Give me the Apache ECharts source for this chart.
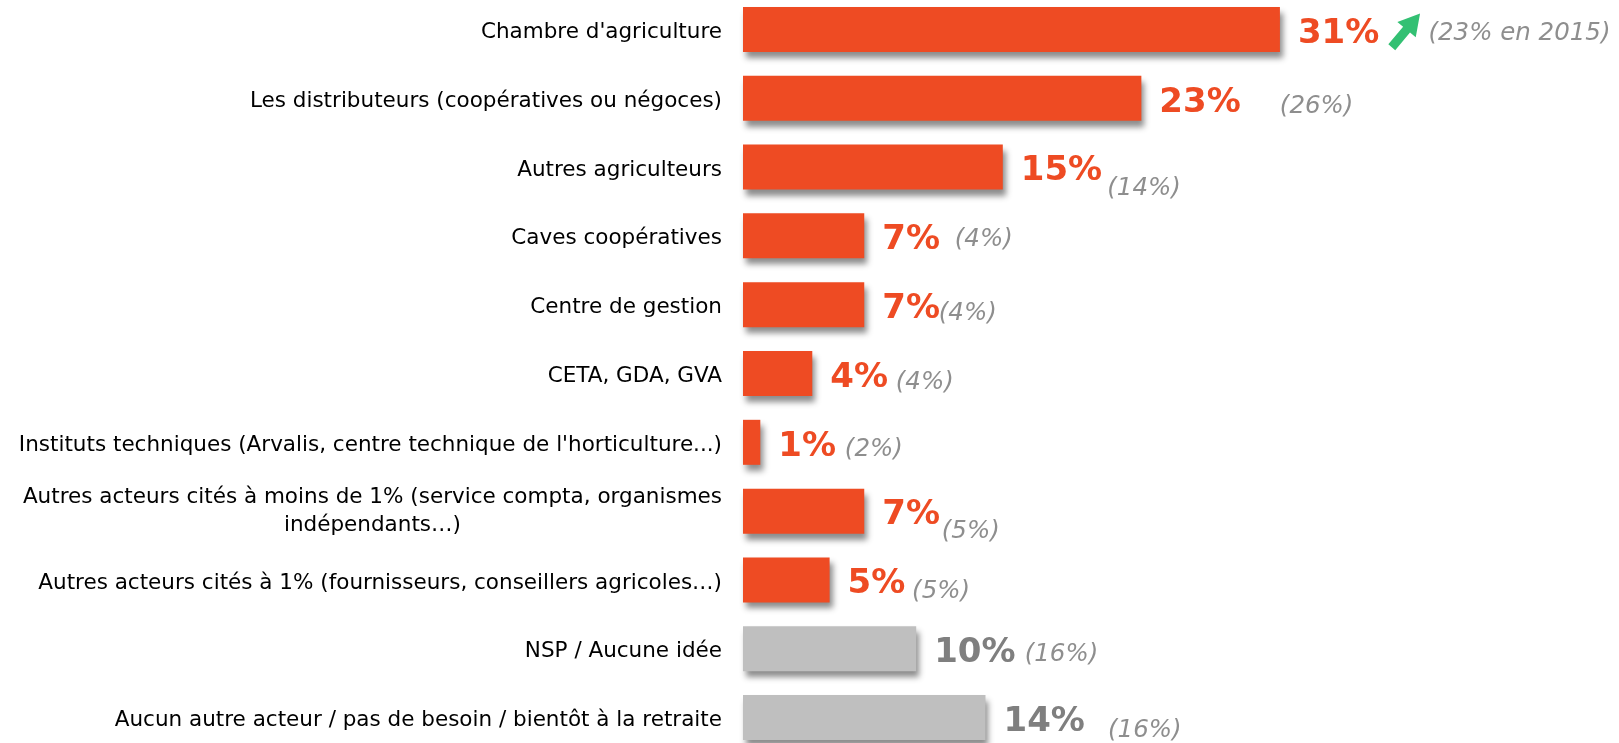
<!DOCTYPE html>
<html>
<head>
<meta charset="utf-8">
<script src="https://cdn.jsdelivr.net/npm/echarts@6/dist/echarts.min.js"></script>
<style>
html,body{margin:0;padding:0;background:#fff;}
#chart{width:1619px;height:743px;}
</style>
</head>
<body>
<div id="chart"></div>
<script>
// ---- data ----
var categories = [
  "Chambre d'agriculture",
  "Les distributeurs (coopératives ou négoces)",
  "Autres agriculteurs",
  "Caves coopératives",
  "Centre de gestion",
  "CETA, GDA, GVA",
  "Instituts techniques (Arvalis, centre technique de l'horticulture...)",
  "Autres acteurs cités à moins de 1% (service compta, organismes\nindépendants…)",
  "Autres acteurs cités à 1% (fournisseurs, conseillers agricoles…)",
  "NSP / Aucune idée",
  "Aucun autre acteur / pas de besoin / bientôt à la retraite"
];
var values = [31, 23, 15, 7, 7, 4, 1, 7, 5, 10, 14];
var priorLabels = ["23% en 2015", "26%", "14%", "4%", "4%", "4%", "2%", "5%", "5%", "16%", "16%"];
var groups = ["actor","actor","actor","actor","actor","actor","actor","actor","actor","none","none"];
var trend = ["up", null, null, null, null, null, null, null, null, null, null];

// ---- layout / style (not data) ----
var FONT = "DejaVu Sans";
var CAT_SIZE = 21.5;
var groupColors = { actor: "#EE4B23", none: "#BFBFBF" };
var groupTextColors = { actor: "#EE4B23", none: "#7F7F7F" };
// prior label offset from bar end / bar centre (px)
var priorOffsets = [[148,4],[138,8],[104,22],[90,4],[74,9],[83,9],[84,7],[77,21],[82,12],[108,6],[122,13]];
var arrowOffset = [126, 1];

var chart = echarts.init(document.getElementById('chart'), null, {renderer: 'canvas'});

var ctx = document.createElement('canvas').getContext('2d');
ctx.font = CAT_SIZE + 'px "' + FONT + '"';

var yData = categories.map(function (c) {
  if (c.indexOf('\n') >= 0) {
    var lines = c.split('\n');
    var w = Math.max.apply(null, lines.map(function (l) { return ctx.measureText(l).width; }));
    return { value: c, textStyle: { align: 'center', verticalAlign: 'middle', padding: [0, w, 0, 0], lineHeight: 28 } };
  }
  return c;
});

var barData = values.map(function (v, i) {
  return {
    value: v,
    itemStyle: { color: groupColors[groups[i]] },
    label: { color: groupTextColors[groups[i]] }
  };
});

var priorData = values.map(function (v, i) {
  return {
    value: [v, i],
    label: { offset: priorOffsets[i], formatter: '(' + priorLabels[i] + ')' }
  };
});

var arrowData = [];
values.forEach(function (v, i) {
  if (trend[i] === 'up') arrowData.push({ value: [v, i] });
});

var option = {
  animation: false,
  backgroundColor: '#ffffff',
  grid: { left: 743, top: -5, width: 866, height: 757, containLabel: false, outerBoundsMode: 'none' },
  xAxis: { type: 'value', min: 0, max: 50, show: false },
  yAxis: {
    type: 'category',
    inverse: true,
    data: yData,
    axisLine: { show: false },
    axisTick: { show: false },
    splitLine: { show: false },
    axisLabel: {
      interval: 0,
      margin: 21,
      fontSize: CAT_SIZE,
      fontFamily: FONT,
      color: '#000000',
      verticalAlign: 'top',
      lineHeight: 6
    }
  },
  series: [
    {
      type: 'bar',
      data: barData,
      barWidth: 45,
      itemStyle: {
        shadowColor: 'rgba(0,0,0,0.45)',
        shadowBlur: 6,
        shadowOffsetX: 3,
        shadowOffsetY: 6
      },
      label: {
        show: true,
        position: 'right',
        distance: 18,
        offset: [0, 4.5],
        fontSize: 34,
        fontWeight: 'bold',
        fontFamily: FONT,
        formatter: '{c}%'
      },
      silent: true
    },
    {
      type: 'scatter',
      data: priorData,
      symbolSize: 1,
      itemStyle: { color: 'rgba(0,0,0,0)' },
      label: {
        show: true,
        position: 'right',
        distance: 0,
        fontSize: 24.5,
        fontStyle: 'italic',
        fontFamily: FONT,
        color: '#727272'
      },
      silent: true,
      z: 5
    },
    {
      type: 'scatter',
      data: arrowData,
      symbol: 'path://M12,0 L24,21 L16.5,21 L16.5,44 L7.5,44 L7.5,21 L0,21 Z',
      symbolSize: [24, 44],
      symbolRotate: -40,
      symbolOffset: arrowOffset,
      itemStyle: { color: '#00B050' },
      silent: true,
      z: 6
    }
  ]
};
chart.setOption(option);
</script>
</body>
</html>
